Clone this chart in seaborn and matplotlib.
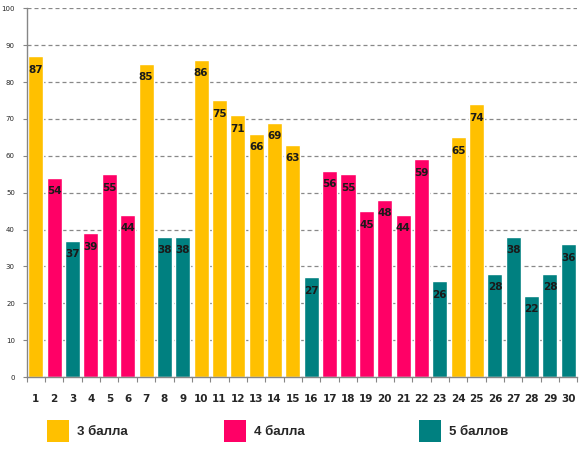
import pandas as pd
import matplotlib.pyplot as plt
import seaborn as sns
from matplotlib.patches import Patch

# Data
students = [str(i) for i in range(1, 31)]
scores = [87, 54, 37, 39, 55, 44, 85, 38, 38, 86,
          75, 71, 66, 69, 63, 27, 56, 55, 45, 48,
          44, 59, 26, 65, 74, 28, 38, 22, 28, 36]
grades = ['3 балла', '4 балла', '5 баллов', '4 балла', '4 балла', '4 балла',
          '3 балла', '5 баллов', '5 баллов', '3 балла',
          '3 балла', '3 балла', '3 балла', '3 балла', '3 балла', '5 баллов',
          '4 балла', '4 балла', '4 балла', '4 балла',
          '4 балла', '4 балла', '5 баллов', '3 балла', '3 балла', '5 баллов',
          '5 баллов', '5 баллов', '5 баллов', '5 баллов']
grade_names = ['3 балла', '4 балла', '5 баллов']
grade_colors = ['#FFC000', '#FF0066', '#008080']

sns.set_style("white")
plt.rcParams['font.family'] = ['DejaVu Sans']

df = pd.DataFrame({'student': students, 'score': scores, 'grade': grades})

fig = plt.figure(figsize=(5.84, 4.53), dpi=100)
ax = fig.add_axes([26.7 / 584, 1 - 377 / 453, (577.5 - 26.7) / 584, (377 - 8.3) / 453])

sns.barplot(data=df, x='student', y='score', hue='grade', order=students,
            hue_order=grade_names, palette=dict(zip(grade_names, grade_colors)),
            dodge=False, width=0.82, saturation=1, legend=False, ax=ax)

# value labels inside the top of each bar
for i, v in enumerate(scores):
    ax.annotate(str(v), (i, v), xytext=(0, -9.7), textcoords='offset points',
                ha='center', va='center', fontsize=7.5, fontweight='bold',
                color='#1a1a1a')

ax.set_xlim(-0.5, len(students) - 0.5)
ax.set_ylim(0, 100)
ax.set_yticks(range(0, 101, 10))
ax.set_xlabel('')
ax.set_ylabel('')

ax.set_axisbelow(True)
ax.yaxis.grid(True, linestyle=(0, (3.2, 2.4)), color='#888888', linewidth=0.9)
ax.xaxis.grid(False)

for side in ['top', 'right']:
    ax.spines[side].set_visible(False)
for side in ['left', 'bottom']:
    ax.spines[side].set_color('#868686')
    ax.spines[side].set_linewidth(1)

ax.tick_params(axis='y', direction='out', length=3, width=0.8, color='#868686',
               labelsize=5, pad=5.5, left=True)
ax.tick_params(axis='x', which='major', length=0, pad=12, labelsize=7.5)
ax.set_xticks([i + 0.5 for i in range(-1, len(students))], minor=True)
ax.tick_params(axis='x', which='minor', direction='out', length=3.6, width=0.8,
               color='#868686', bottom=True)
for lbl in ax.get_xticklabels():
    lbl.set_fontweight('bold')

# legend items placed separately, as in the reference
legend_x = [47, 224, 419]
for name, color, x in zip(grade_names, grade_colors, legend_x):
    leg = fig.legend(handles=[Patch(facecolor=color, edgecolor='none')], labels=[name],
                     loc='center left', bbox_to_anchor=(x / 584, 1 - 431 / 453),
                     frameon=False, borderpad=0, borderaxespad=0,
                     handlelength=1.67, handleheight=2.19, handletextpad=0.6,
                     prop={'family': 'Liberation Sans', 'weight': 'bold', 'size': 9.5})

fig.savefig('out.png', dpi=100)
